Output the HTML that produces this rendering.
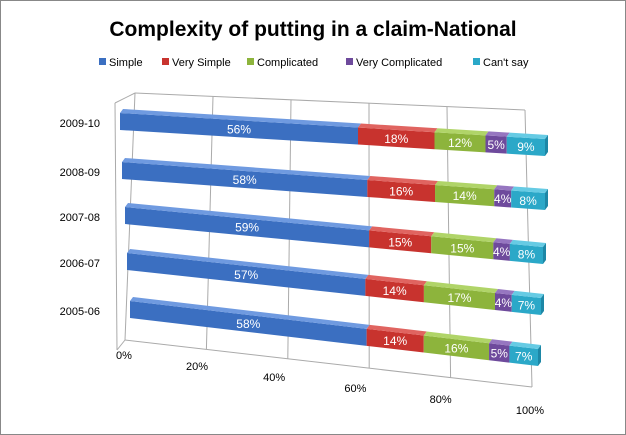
<!DOCTYPE html>
<html><head><meta charset="utf-8"><style>
body{margin:0;background:#fff}
svg{display:block;font-family:"Liberation Sans",sans-serif}
</style></head><body>
<svg id="c" width="626" height="435" viewBox="0 0 626 435">
<rect x="0.5" y="0.5" width="625" height="434" fill="#fff" stroke="#888"/>
<text x="313" y="36" text-anchor="middle" font-size="21" font-weight="bold" fill="#000">Complexity of putting in a claim-National</text>
<g id="legend"></g>
<g id="grid"></g>
<g id="bars"></g>
<g id="axes"></g>
</svg>
<script>
const categories=["2009-10","2008-09","2007-08","2006-07","2005-06"];
const seriesNames=["Simple","Very Simple","Complicated","Very Complicated","Can't say"];
const simple=[56,58,59,57,58];
const verySimple=[18,16,15,14,14];
const complicated=[12,14,15,17,16];
const veryComplicated=[5,4,4,4,5];
const cantSay=[9,8,8,7,7];
const xTicks=[0,20,40,60,80,100];
const series=[simple,verySimple,complicated,veryComplicated,cantSay];
const colors=["#3b6fc1","#c8332e","#8db43c","#6e4a9c","#2ba8c8"];
const tops=["#6f9ae0","#e06460","#b0d468","#9676c0","#66cbe4"];
const bars=[[120,113,545,139],[122,162,545,193],[125,207,543,247],[127,253,541,298],[130,301,538,349]];
const NS="http://www.w3.org/2000/svg";
function mk(t,a,p){const e=document.createElementNS(NS,t);for(const k in a)e.setAttribute(k,a[k]);p.appendChild(e);return e;}
const lg=document.getElementById('legend');
const lx=[99,162,247,346,473];
seriesNames.forEach((n,i)=>{
 const r=mk('rect',{x:lx[i],y:58,width:7,height:7,fill:colors[i]},lg);
 
 
 const t=mk('text',{x:lx[i]+10,y:66,'font-size':11,fill:'#000'},lg);t.textContent=n;
 
 
});
const gg=document.getElementById('grid');
function gx(p){return {tx:135+p*3.9,ty:93+p*0.17,bx:125+p*4.07,by:340+p*0.47};}
xTicks.forEach(p=>{
 const g=gx(p);
 const l=mk('line',{x1:g.tx,y1:g.ty,x2:g.bx,y2:g.by,stroke:'#aaa','stroke-width':1},gg);
 
 
});
mk('line',{x1:135,y1:93,x2:525,y2:110,stroke:'#aaa'},gg);
mk('line',{x1:125,y1:340,x2:532,y2:387,stroke:'#aaa'},gg);
mk('line',{x1:115,y1:103,x2:135,y2:93,stroke:'#aaa'},gg);
mk('line',{x1:115,y1:103,x2:117,y2:350,stroke:'#aaa'},gg);
mk('line',{x1:117,y1:350,x2:125,y2:340,stroke:'#aaa'},gg);
const ax=document.getElementById('axes');
xTicks.forEach(p=>{
 const t=mk('text',{x:124+3.55*p+0.0051*p*p,y:359+0.55*p,'font-size':11,fill:'#000','text-anchor':'middle'},ax);
 t.textContent=p+'%';
 
 
});
const bg=document.getElementById('bars');
const H=17,T=4;
categories.forEach((c,i)=>{
 const [xL,yL,xR,yR]=bars[i];
 const tot=series.reduce((s,a)=>s+a[i],0);
 const pt=v=>[xL+v/tot*(xR-xL),yL+v/tot*(yR-yL)];
 let cum=0;
 series.forEach((s,j)=>{
  const v=s[i];const a=pt(cum),b=pt(cum+v);
  const f=mk('polygon',{points:`${a[0]},${a[1]} ${b[0]},${b[1]} ${b[0]},${b[1]+H} ${a[0]},${a[1]+H}`,fill:colors[j]},bg);
  
  
  mk('polygon',{points:`${a[0]+3},${a[1]-T} ${b[0]+3},${b[1]-T} ${b[0]},${b[1]} ${a[0]},${a[1]}`,fill:tops[j]},bg);
  const m=pt(cum+v/2);
  const t=mk('text',{x:m[0],y:m[1]+13,'font-size':12,fill:'#fff','text-anchor':'middle'},bg);
  t.textContent=v+'%';
  
  
  cum+=v;
 });
 const e=pt(tot);
 mk('polygon',{points:`${e[0]},${e[1]} ${e[0]+3},${e[1]-T} ${e[0]+3},${e[1]+H-T} ${e[0]},${e[1]+H}`,fill:'#1d87a6'},bg);
 const yl=mk('text',{x:100,y:yL+14,'font-size':11,fill:'#000','text-anchor':'end'},ax);
 yl.textContent=c;
 
 
});
</script>
</body></html>
